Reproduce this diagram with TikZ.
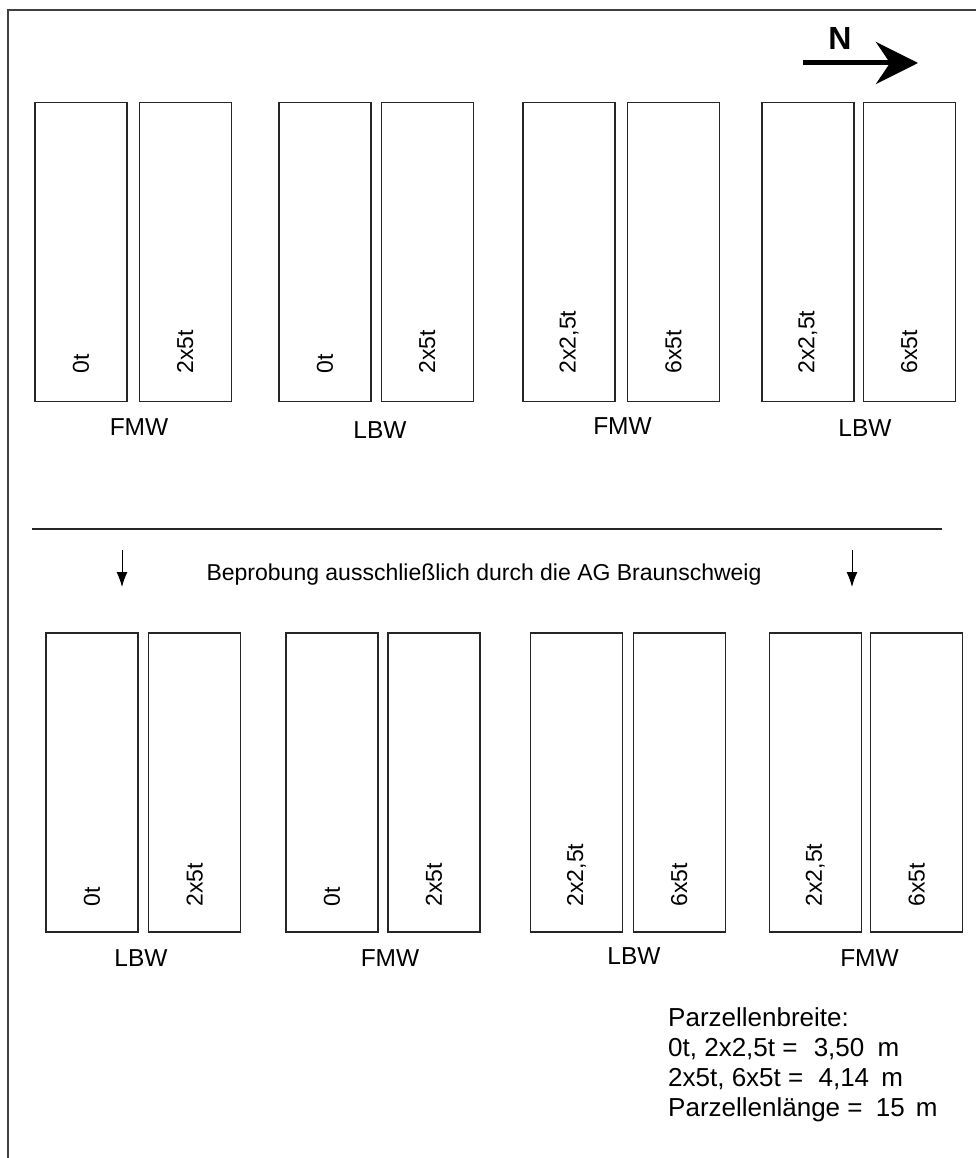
\documentclass[tikz,border=0pt]{standalone}
\usepackage{fontspec}
\setmainfont{Liberation Sans}
\usetikzlibrary{arrows.meta}
\begin{document}
\begin{tikzpicture}[x=1pt,y=-1pt,
  plotbox/.style={draw=black!85,line width=1.3pt,inner sep=0pt,minimum width=92pt,minimum height=299pt},
  inlab/.style={rotate=90,anchor=west,inner sep=0pt,font=\fontsize{23}{27}\selectfont},
  grp/.style={inner sep=0pt,font=\fontsize{24.5}{29}\selectfont},
  legend/.style={anchor=base west,inner sep=0pt,font=\fontsize{26}{30}\selectfont},
  sep/.style={draw=black!85,line width=1.3pt},
  down/.style={line width=1pt,-{Latex[length=15pt,width=11pt]}}]
\useasboundingbox (0,0) rectangle (976,1158);
% frame
\draw[black!75,line width=1.8pt] (8,1158) -- (8,10) -- (976,10);
% north arrow
\node[inner sep=0pt,font=\bfseries\fontsize{32}{36}\selectfont] (N) at (840,38) {N};
\coordinate (nS) at (803,63);
\coordinate (nE) at (918,63);
\draw[line width=5pt,-{Stealth[length=42pt,width=42pt,inset=14pt]}] (nS) -- (nE);
% top row
\foreach \n/\x in {t1/80.85,t2/185.15,t3/324.85,t4/427.15,t5/569,t6/673.5,t7/807.85,t8/909.3}{
  \node[plotbox] (\n) at (\x,251.85) {};
}
\node[inlab] (t1l) at ([yshift=28.5pt]t1.south) {0t};
\node[inlab] (t2l) at ([yshift=28.5pt]t2.south) {2x5t};
\node[inlab] (t3l) at ([yshift=28.5pt]t3.south) {0t};
\node[inlab] (t4l) at ([yshift=28.5pt]t4.south) {2x5t};
\node[inlab] (t5l) at ([yshift=28.5pt]t5.south) {2x2,5t};
\node[inlab] (t6l) at ([yshift=28.5pt]t6.south) {6x5t};
\node[inlab] (t7l) at ([yshift=28.5pt]t7.south) {2x2,5t};
\node[inlab] (t8l) at ([yshift=28.5pt]t8.south) {6x5t};
\node[grp] (g1) at (139,427.5) {FMW};
\node[grp] (g2) at (380,429.7) {LBW};
\node[grp] (g3) at (622.5,425.8) {FMW};
\node[grp] (g4) at (865,428) {LBW};
% separator
\coordinate (sL) at (32,529);
\coordinate (sR) at (942,529);
\draw[sep] (sL) -- (sR);
\node[anchor=base,inner sep=0pt,font=\fontsize{23}{27}\selectfont] (bep) at (484,580) {Beprobung ausschließlich durch die AG Braunschweig};
\coordinate (a1s) at (122,550);
\coordinate (a1e) at (122,587);
\coordinate (a2s) at (852,550);
\coordinate (a2e) at (852,587);
\draw[down] (a1s) -- (a1e);
\draw[down] (a2s) -- (a2e);
% bottom row
\foreach \n/\x in {b1/91.85,b2/194.7,b3/332,b4/433.85,b5/576.5,b6/679.15,b7/815.3,b8/916.7}{
  \node[plotbox] (\n) at (\x,782.5) {};
}
\node[inlab] (b1l) at ([yshift=26pt]b1.south) {0t};
\node[inlab] (b2l) at ([yshift=26pt]b2.south) {2x5t};
\node[inlab] (b3l) at ([yshift=26pt]b3.south) {0t};
\node[inlab] (b4l) at ([yshift=26pt]b4.south) {2x5t};
\node[inlab] (b5l) at ([yshift=26pt]b5.south) {2x2,5t};
\node[inlab] (b6l) at ([yshift=26pt]b6.south) {6x5t};
\node[inlab] (b7l) at ([yshift=26pt]b7.south) {2x2,5t};
\node[inlab] (b8l) at ([yshift=26pt]b8.south) {6x5t};
\node[grp] (h1) at (141,958.5) {LBW};
\node[grp] (h2) at (390,958.5) {FMW};
\node[grp] (h3) at (634,956.5) {LBW};
\node[grp] (h4) at (869.5,958.5) {FMW};
% legend
\node[legend] (l1) at (668,1026) {Parzellenbreite:};
\node[legend] (l2) at (668,1056) {0t, 2x2,5t = \hspace{9pt}3,50 \hspace{6pt}m};
\node[legend] (l3) at (668,1086.5) {2x5t, 6x5t = \hspace{8pt}4,14 \hspace{5pt}m};
\node[legend] (l4) at (668,1116) {Parzellenlänge = \hspace{6pt}15 \hspace{4pt}m};
\end{tikzpicture}
\end{document}
